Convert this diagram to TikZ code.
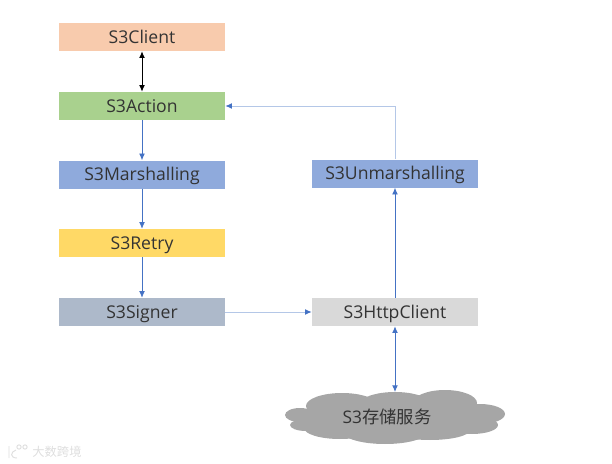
\documentclass[tikz,border=0pt]{standalone}
\usepackage{fontspec}
\setmainfont{Open Sans}
\newfontfamily\cjkfont{Noto Sans CJK SC}
\usetikzlibrary{arrows.meta}
\definecolor{cClient}{HTML}{F8CBAD}
\definecolor{cAction}{HTML}{A9D18E}
\definecolor{cBlue}{HTML}{8FAADC}
\definecolor{cRetry}{HTML}{FFD966}
\definecolor{cSigner}{HTML}{ADB9CA}
\definecolor{cHttp}{HTML}{D9D9D9}
\definecolor{cCloud}{HTML}{A6A6A6}
\definecolor{cLine}{HTML}{4472C4}
\definecolor{cPale}{HTML}{B4C7E7}
\definecolor{cText}{HTML}{333333}
\tikzset{
  x=0.75pt,y=-0.75pt,
  box/.style={minimum width=124.5pt,minimum height=21pt,inner sep=0pt,text=cText,text height=11pt,text depth=1.6pt,font=\fontsize{13.2}{15}\selectfont},
  flow/.style={draw=cLine,line width=0.6pt,-{Latex[length=5pt,width=4.4pt]}},
  palef/.style={draw=cPale,line width=0.7pt,-{Latex[length=5pt,width=4.4pt,color=cLine]}},
  both/.style={draw=cLine,line width=0.7pt,{Latex[length=5pt,width=4.4pt]}-{Latex[length=5pt,width=4.4pt]}},
  blackboth/.style={draw=black,line width=0.7pt,{Latex[length=5pt,width=4.4pt]}-{Latex[length=5pt,width=4.4pt]}},
  bump/.style={fill=cCloud,draw=none},
  faint/.style={draw=black!13,line width=0.7pt},
}
\begin{document}
\begin{tikzpicture}
\useasboundingbox (0,0) rectangle (612,464);
% cloud
\foreach \cx/\cy/\rx/\ry in {300/415/15/7,306/425/16/6,342/406/36/13,395/405/36/13,445/403/32/13,480/414/25/10,472/425/26/9,430/430/40/10,385/432/42/12,340/428/36/11,395/417/90/16}
  \fill[bump] (\cx,\cy) ellipse [x radius=\rx*0.75pt,y radius=\ry*0.75pt];
\node[box,fill=cClient] (client) at (142,37) {S3Client};
\node[box,fill=cAction] (action) at (142,106) {S3Action};
\node[box,fill=cBlue] (marsh) at (142,174.5) {S3Marshalling};
\node[box,fill=cRetry] (retry) at (142,243) {S3Retry};
\node[box,fill=cSigner] (signer) at (142,312) {S3Signer};
\node[box,fill=cBlue] (unmarsh) at (395,173.5) {S3Unmarshalling};
\node[box,fill=cHttp] (http) at (395,312) {S3HttpClient};
\node[inner sep=0pt,text=cText,text height=11pt,text depth=1.6pt,font=\fontsize{13}{15}\selectfont] (store) at (387,417) {S3{\cjkfont 存储服务}};
\coordinate (cloudtop) at (395,392);
\coordinate (corner) at (395,106);
\draw[blackboth] (client) -- (action);
\draw[flow] (action) -- (marsh);
\draw[flow] (marsh) -- (retry);
\draw[flow] (retry) -- (signer);
\draw[palef] (signer) -- (http);
\draw[flow] (http) -- (unmarsh);
\draw[both] (http.south) -- (cloudtop);
\draw[palef] (unmarsh.north) -- (corner) -- (action.east);
\node[inner sep=0pt,text=black!13,font=\cjkfont\fontsize{9.2}{10}\selectfont] (mark) at (57,451.5) {大数跨境};
\draw[faint] (9,446) -- (9,458) (16,450) .. controls (10,452) and (10,458) .. (17,458);
\draw[faint] (19,447) circle [radius=1.6pt] (25,447) circle [radius=1.6pt];
\end{tikzpicture}
\end{document}
